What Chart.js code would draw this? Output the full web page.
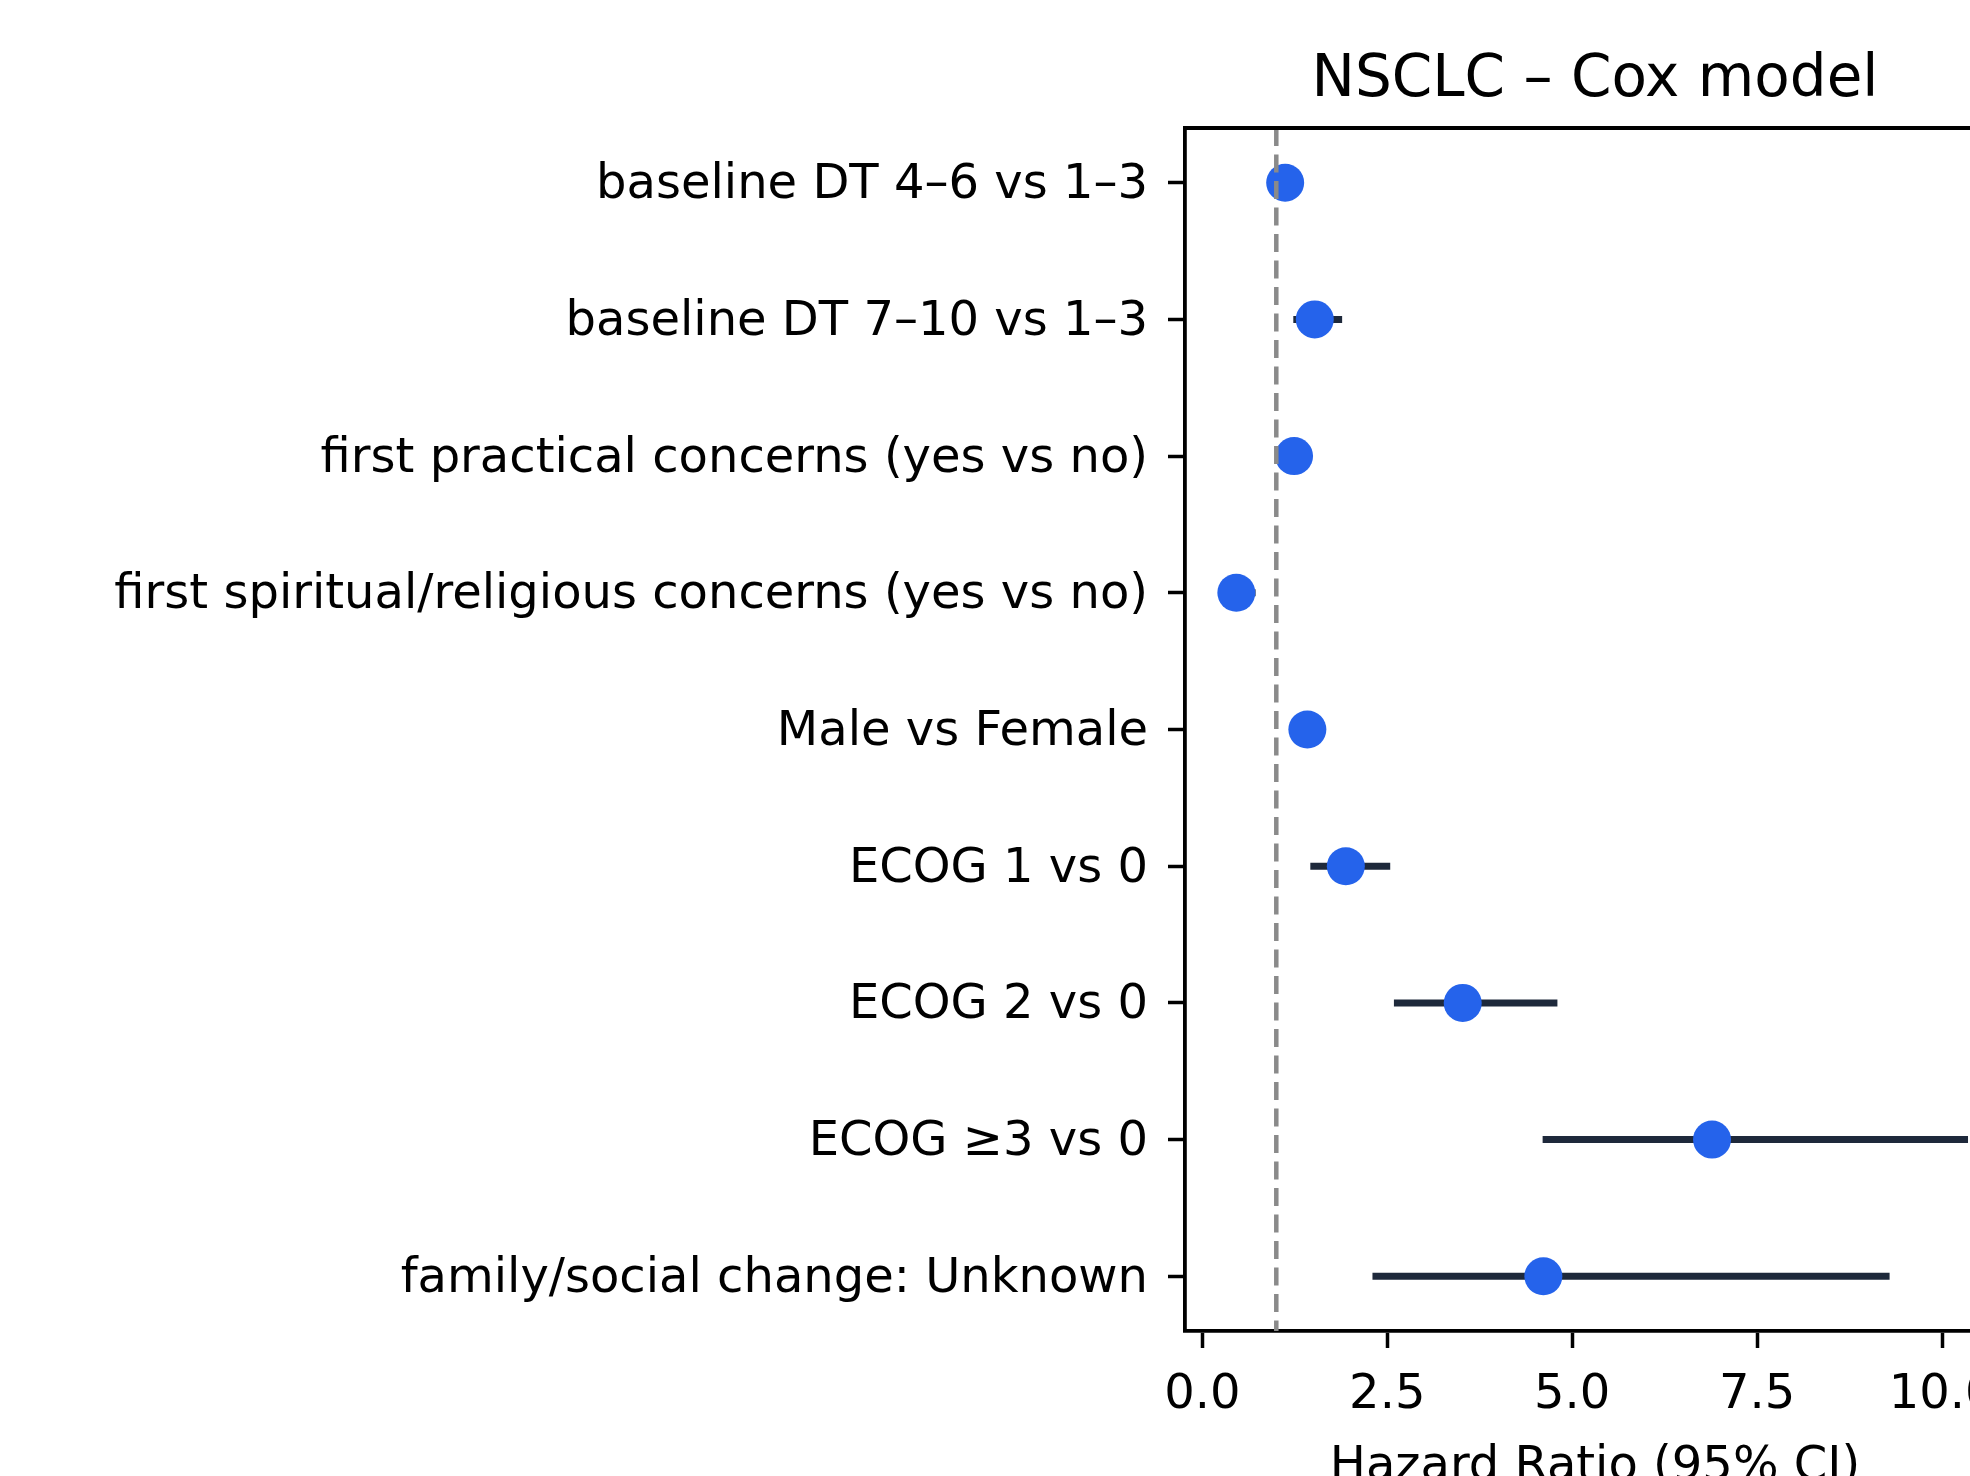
<!DOCTYPE html>
<html>
<head>
    <title>NSCLC – Cox model</title>
    <meta charset="UTF-8">
    <script src="https://cdn.jsdelivr.net/npm/chart.js"></script>
    <style>
        html, body { margin: 0; padding: 0; overflow: hidden; background: #fff; }
        canvas { display: block; }
    </style>
</head>
<body>
    <canvas id="forestChart" width="2040" height="1520"></canvas>

    <script>
        // rows, top to bottom
        const labels = [
            'baseline DT 4–6 vs 1–3',
            'baseline DT 7–10 vs 1–3',
            'first practical concerns (yes vs no)',
            'first spiritual/religious concerns (yes vs no)',
            'Male vs Female',
            'ECOG 1 vs 0',
            'ECOG 2 vs 0',
            'ECOG ≥3 vs 0',
            'family/social change: Unknown'
        ];
        const hazardRatio = [1.12, 1.52, 1.24, 0.46, 1.42, 1.94, 3.52, 6.89, 4.61];
        const ciLow = [0.97, 1.23, 1.05, 0.27, 1.22, 1.46, 2.59, 4.60, 2.30];
        const ciHigh = [1.30, 1.89, 1.46, 0.72, 1.66, 2.54, 4.80, 10.35, 9.29];
        const xTicks = [0, 2.5, 5, 7.5, 10];
        const refValue = 1;

        const font = 'DejaVu Sans';

        // one line per confidence interval
        const ciSets = labels.map((label, i) => ({
            label: label + ' CI',
            data: [{ x: ciLow[i], y: i }, { x: ciHigh[i], y: i }],
            showLine: true,
            borderColor: '#1e293b',
            borderWidth: 7,
            borderCapStyle: 'butt',
            pointRadius: 0,
            order: 3
        }));

        const pointSet = {
            label: 'HR',
            data: hazardRatio.map((v, i) => ({ x: v, y: i })),
            backgroundColor: '#2563eb',
            borderWidth: 0,
            pointRadius: 19,
            order: 2
        };

        const refSet = {
            label: 'HR = 1',
            data: [{ x: refValue, y: -0.4 }, { x: refValue, y: labels.length - 1 + 0.4 }],
            showLine: true,
            borderColor: '#8a8a8a',
            borderWidth: 4.5,
            borderDash: [18, 8.5],
            pointRadius: 0,
            order: 1
        };

        // top and right spines
        const frame = {
            id: 'frame',
            afterDraw(chart) {
                const { ctx, chartArea: a } = chart;
                ctx.save();
                ctx.strokeStyle = '#000';
                ctx.lineWidth = 3.8;
                ctx.beginPath();
                ctx.moveTo(a.left - 1.9, a.top);
                ctx.lineTo(a.right, a.top);
                ctx.lineTo(a.right, a.bottom);
                ctx.stroke();
                ctx.restore();
            }
        };

        const ctx = document.getElementById('forestChart').getContext('2d');
        new Chart(ctx, {
            type: 'scatter',
            data: { datasets: [...ciSets, pointSet, refSet] },
            plugins: [frame],
            options: {
                responsive: false,
                animation: false,
                devicePixelRatio: 1,
                layout: { padding: { left: 0, right: 35, top: 0, bottom: 0 } },
                plugins: {
                    legend: { display: false },
                    tooltip: { enabled: false },
                    title: {
                        display: true,
                        text: 'NSCLC – Cox model',
                        fullSize: false,
                        color: '#000',
                        font: { family: font, size: 58, weight: 'normal' },
                        padding: { top: 46, bottom: 12.4 }
                    }
                },
                scales: {
                    x: {
                        type: 'linear',
                        min: -0.234,
                        max: 10.85,
                        afterBuildTicks: axis => { axis.ticks = xTicks.map(v => ({ value: v })); },
                        afterFit: axis => { axis.height = 189; },
                        ticks: {
                            color: '#000',
                            font: { family: font, size: 48 },
                            padding: 19,
                            maxRotation: 0,
                            callback: v => v.toFixed(1)
                        },
                        grid: {
                            drawOnChartArea: false,
                            tickLength: 17,
                            tickWidth: 3.5,
                            tickColor: '#000'
                        },
                        border: { color: '#000', width: 3.8 },
                        title: {
                            display: true,
                            text: 'Hazard Ratio (95% CI)',
                            color: '#000',
                            font: { family: font, size: 48 },
                            padding: { top: 0, bottom: 24 }
                        }
                    },
                    y: {
                        type: 'linear',
                        reverse: true,
                        min: -0.4,
                        max: labels.length - 1 + 0.4,
                        afterBuildTicks: axis => { axis.ticks = labels.map((l, i) => ({ value: i })); },
                        afterFit: axis => { axis.width = 1185; },
                        ticks: {
                            color: '#000',
                            font: { family: font, size: 48 },
                            padding: 20,
                            labelOffset: 3,
                            crossAlign: 'near',
                            callback: v => labels[v]
                        },
                        grid: {
                            drawOnChartArea: false,
                            tickLength: 17,
                            tickWidth: 3.5,
                            tickColor: '#000'
                        },
                        border: { color: '#000', width: 3.8 }
                    }
                }
            }
        });
    </script>
</body>
</html>
